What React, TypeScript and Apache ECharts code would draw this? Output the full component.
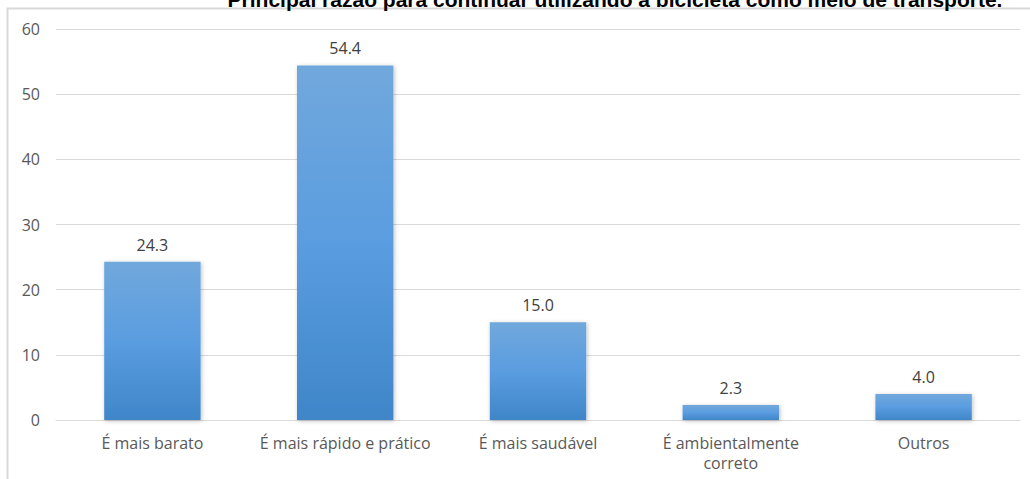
import React, { useEffect, useRef } from "react";
import * as echarts from "echarts";

const titleText = "Principal razão para continuar utilizando a bicicleta como meio de transporte.";
const categories = [
  "É mais barato",
  "É mais rápido e prático",
  "É mais saudável",
  "É ambientalmente\ncorreto",
  "Outros",
];
const values = [24.3, 54.4, 15.0, 2.3, 4.0];
const yMin = 0;
const yMax = 60;
const yInterval = 10;

export default function App() {
  const ref = useRef<HTMLDivElement>(null);
  useEffect(() => {
    if (!ref.current) return;
    const chart = echarts.init(ref.current, null, { renderer: "svg" });
    chart.setOption({
      animation: false,
      backgroundColor: "#ffffff",
      graphic: [
        {
          type: "rect",
          z: 0,
          shape: { x: 7.5, y: 8.5, width: 1040, height: 490 },
          style: { fill: "none", stroke: "#d9d9d9", lineWidth: 2 },
          silent: true,
        },
        {
          type: "text",
          z: 10,
          x: 615,
          y: 10,
          style: {
            text: titleText,
            fontFamily: "Liberation Sans, Arial, sans-serif",
            fontWeight: "bold",
            fontSize: 21,
            fill: "#000000",
            textAlign: "center",
            textVerticalAlign: "bottom",
          },
          silent: true,
        },
      ],
      grid: { left: 56, right: 10, top: 29, bottom: 59, containLabel: false },
      xAxis: {
        type: "category",
        data: categories,
        axisLine: { lineStyle: { color: "#d9d9d9", width: 1 } },
        axisTick: { show: false },
        axisLabel: {
          color: "#595959",
          fontSize: 16,
          fontFamily: "Open Sans, sans-serif",
          margin: 13,
          lineHeight: 20,
          interval: 0,
        },
      },
      yAxis: {
        type: "value",
        min: yMin,
        max: yMax,
        interval: yInterval,
        axisLine: { show: false },
        axisTick: { show: false },
        splitLine: { lineStyle: { color: "#d9d9d9", width: 1 } },
        axisLabel: {
          color: "#595959",
          fontSize: 16,
          fontFamily: "Open Sans, sans-serif",
          margin: 16,
        },
      },
      series: [
        {
          type: "bar",
          data: values,
          barWidth: "50%",
          itemStyle: {
            color: new echarts.graphic.LinearGradient(0, 0, 0, 1, [
              { offset: 0, color: "#71a8dc" },
              { offset: 0.5, color: "#5a9de0" },
              { offset: 1, color: "#3f86c9" },
            ]),
            shadowColor: "rgba(0,0,0,0.25)",
            shadowBlur: 4,
            shadowOffsetX: 1,
            shadowOffsetY: 1,
          },
          label: {
            show: true,
            position: "top",
            distance: 9,
            color: "#404040",
            fontSize: 16,
            fontFamily: "Open Sans, sans-serif",
            formatter: (p: any) => Number(p.value).toFixed(1),
          },
        },
      ],
    });
    return () => chart.dispose();
  }, []);
  return (
    <div
      ref={ref}
      style={{ position: "absolute", left: 0, top: 0, width: 1030, height: 479 }}
    />
  );
}
